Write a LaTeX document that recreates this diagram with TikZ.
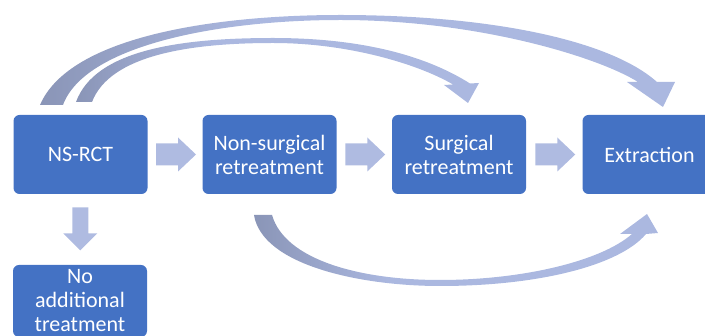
\documentclass[tikz,border=0pt]{standalone}
\usepackage{fontspec}
\setmainfont{Carlito}
\usetikzlibrary{calc}
\definecolor{boxblue}{HTML}{4472C4}
\definecolor{arrowlight}{HTML}{AFBBE1}
\definecolor{ribbondark}{HTML}{8A95B7}
\definecolor{ribbonlight}{HTML}{ABB8E0}
\pgfdeclarehorizontalshading{ribbon}{100bp}{color(0bp)=(ribbondark); color(25bp)=(ribbondark); color(42bp)=(ribbonlight); color(100bp)=(ribbonlight)}
\begin{document}
\begin{tikzpicture}[x=1pt,y=-1pt,
  stepbox/.style={draw=none, fill=boxblue, rounded corners=6pt, minimum width=134pt, minimum height=79pt, text=white, align=center, inner sep=0pt, font=\fontsize{22}{24}\selectfont},
  rblock/.pic={\fill[arrowlight] (-20,-11) -- (2,-11) -- (2,-17) -- (20,0) -- (2,17) -- (2,11) -- (-20,11) -- cycle;},
  dblock/.pic={\fill[arrowlight] (-8,-22) -- (-8,4) -- (-17,4) -- (0,21) -- (17,4) -- (8,4) -- (8,-22) -- cycle;}]
\useasboundingbox (0,0) rectangle (705,336);
\clip (0,0) rectangle (705,336);

% boxes
\node[stepbox] (ns)  at (80.5,154.5) {NS-RCT};
\node[stepbox] (nsr) at (269.5,154.5) {Non-surgical\\retreatment};
\node[stepbox] (sr)  at (459,154.5) {Surgical\\retreatment};
\node[stepbox] (ex)  at (649.5,154.5) {Extraction};
\node[stepbox, minimum height=72pt] (no) at (80,301) {No\\additional\\treatment};

% straight block arrows
\pic at ($(ns.east)!0.5!(nsr.west)+(1,0)$) {rblock};
\pic at ($(nsr.east)!0.5!(sr.west)+(1,0)$) {rblock};
\pic at ($(sr.east)!0.5!(ex.west)+(1,0)$) {rblock};
\pic at ($(ns.south)!0.5!(no.north)$) {dblock};

% curved arrows
\shade[shading=ribbon] (40,105) .. controls (70,35) and (220,15) .. (340,15)
  .. controls (490,15) and (610,40) .. (657,82) -- (675,82) -- (663,107) -- (627,82) -- (638,82)
  .. controls (600,58) and (480,20) .. (340,20) .. controls (220,20) and (85,45) .. (63,105) -- cycle;
\shade[shading=ribbon] (76,102) .. controls (95,50) and (180,38) .. (273,38)
  .. controls (360,38) and (425,55) .. (470,83.5) -- (479,83) -- (468,103) -- (444,85) -- (453,84.5)
  .. controls (420,65) and (350,43) .. (273,43) .. controls (190,43) and (110,55) .. (92,102) -- cycle;
\shade[shading=ribbon] (254,215) .. controls (262,265) and (360,286) .. (440,286)
  .. controls (540,286) and (620,265) .. (646,234) -- (658,233) -- (647,214) -- (620,234) -- (632,234)
  .. controls (600,262) and (520,280) .. (440,280) .. controls (360,280) and (285,260) .. (272,215) -- cycle;
\end{tikzpicture}
\end{document}
